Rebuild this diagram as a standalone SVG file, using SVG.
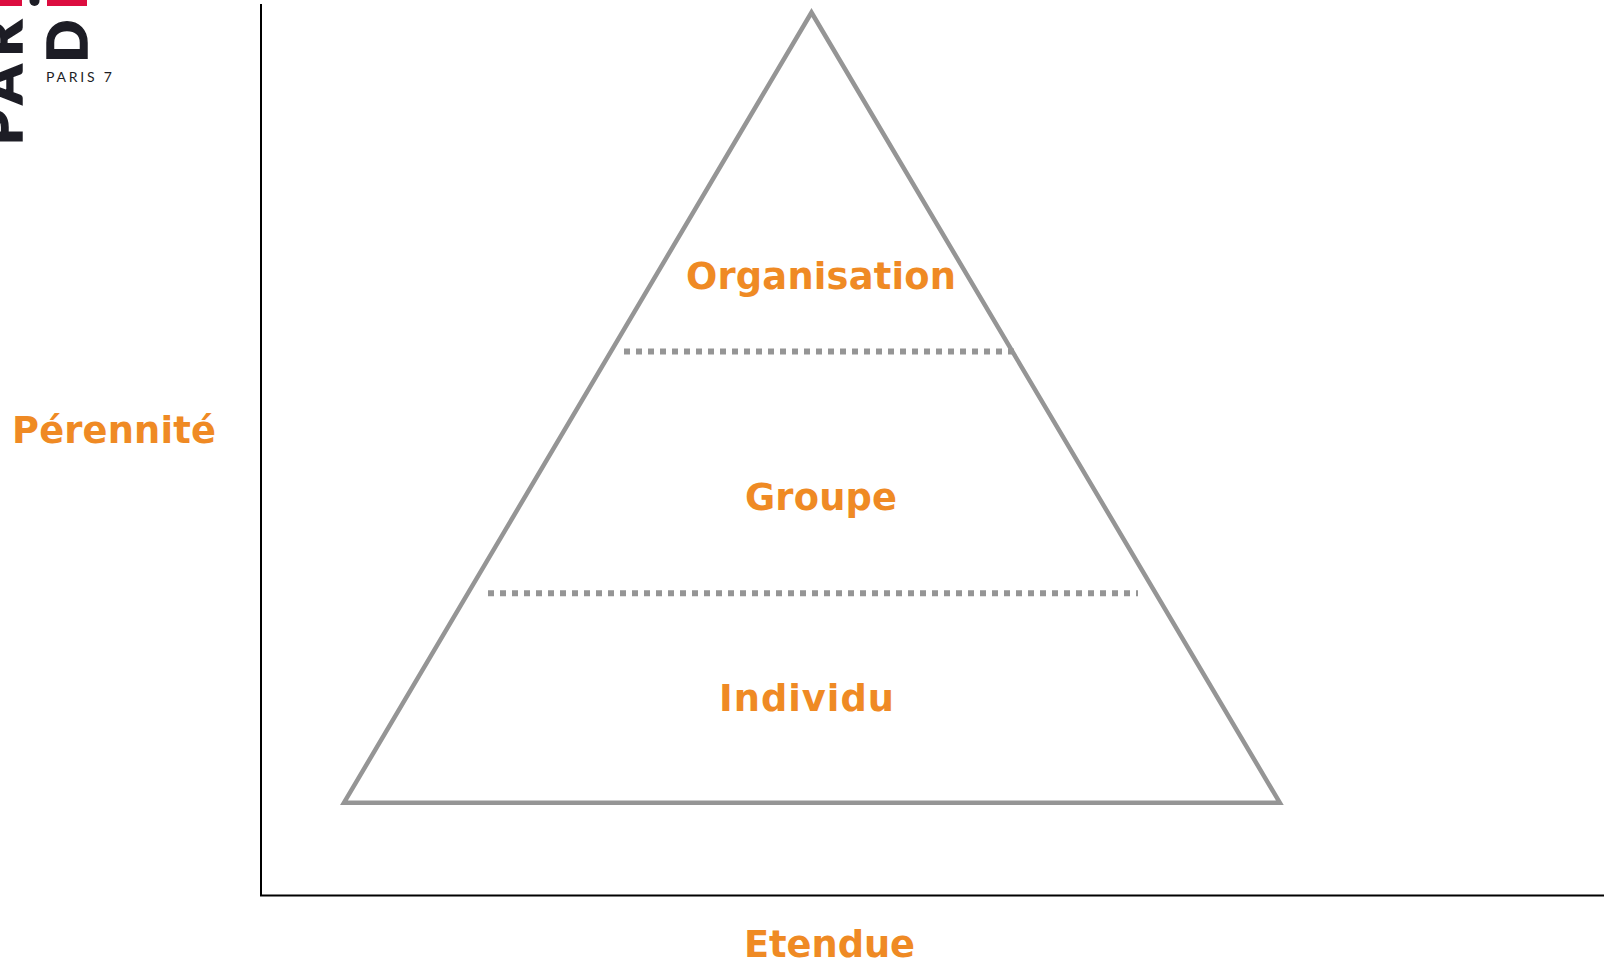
<svg xmlns="http://www.w3.org/2000/svg" width="1604" height="963" viewBox="0 0 1604 963">
<style>
.lab{font-family:"DejaVu Sans",Verdana,sans-serif;font-weight:700;font-size:36.8px;fill:#ef8a24}
.logo{font-family:"Lato","Liberation Sans",sans-serif;font-weight:900;font-size:56px;fill:#1d1d25;stroke:#1d1d25;stroke-width:1.5}
.dots{fill:none;stroke:#959595;stroke-width:6;stroke-dasharray:6 6}
</style>
<rect width="1604" height="963" fill="#fff"/>
<g id="logo">
<rect x="0" y="0" width="22" height="6" fill="#dc0d3f"/>
<rect x="47" y="0" width="40" height="6" fill="#dc0d3f"/>
<circle cx="34.500" cy="1" r="5" fill="#1d1d25"/>
<text class="logo" transform="translate(22 145) rotate(-90)" letter-spacing="8.500">PAR</text>
<text class="logo" transform="translate(86.500 62.500) rotate(-90)">D</text>
<text x="46" y="82" font-family="Lato,'Liberation Sans',sans-serif" font-size="14" letter-spacing="2.800" fill="#1d1d25">PARIS 7</text>
</g>
<g id="connectors" fill="none">
<path id="axes" d="M261 4V895.500H1604" stroke="#000" stroke-width="2"/>
<path id="pyramid" d="M811.500 12.500L344 802.700H1279.800Z" stroke="#959595" stroke-width="4.500"/>
<path class="dots" d="M624 351.500H1014"/>
<path class="dots" d="M488 593.300H1138"/>
</g>
<g id="organisation"><text class="lab" x="686" y="288.500" textLength="270">Organisation</text></g>
<g id="groupe"><text class="lab" x="745" y="510" textLength="152">Groupe</text></g>
<g id="individu"><text class="lab" x="719" y="711" textLength="175">Individu</text></g>
<g id="perennite"><text class="lab" x="12" y="443" textLength="204">Pérennité</text></g>
<g id="etendue"><text class="lab" x="744" y="957" textLength="171">Etendue</text></g>
</svg>
